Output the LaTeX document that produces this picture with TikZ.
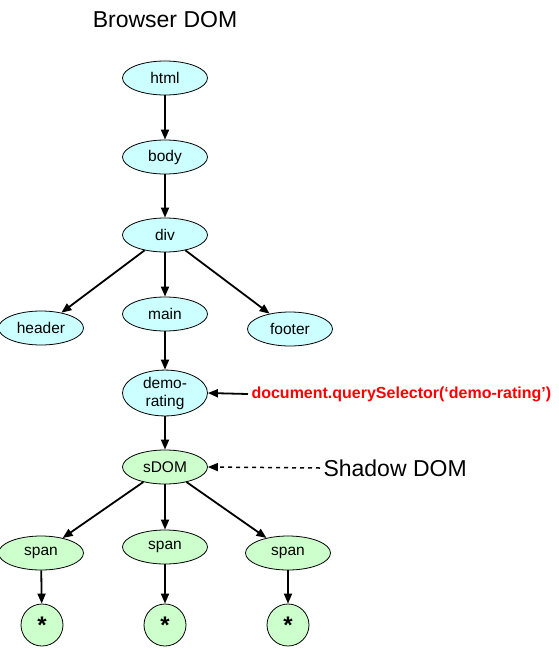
\documentclass[tikz,border=0pt]{standalone}
\usepackage{fontspec}
\setmainfont{Liberation Sans}
\usetikzlibrary{shapes.geometric,arrows.meta}
\definecolor{domcyan}{RGB}{204,255,255}
\definecolor{domgreen}{RGB}{204,255,204}
\definecolor{qred}{RGB}{255,0,0}
\tikzset{
  dom/.style={ellipse,draw=black,line width=0.8pt,fill=domcyan,minimum width=85pt,minimum height=34pt,inner sep=0pt,font=\fontsize{15.5}{17}\selectfont,align=center},
  shd/.style={dom,fill=domgreen},
  star/.style={circle,draw=black,line width=0.8pt,fill=domgreen,minimum size=42pt,inner sep=0pt,font=\fontsize{24}{24}\selectfont\bfseries},
  conn/.style={line width=1.8pt,-{Triangle[length=10pt,width=8pt]}},
  dconn/.style={line width=1.5pt,dash pattern=on 4pt off 4pt,-{Triangle[length=10pt,width=8pt]}},
}
\begin{document}
\begin{tikzpicture}[x=1pt,y=-1pt]
\useasboundingbox (0,0) rectangle (558,649);
\node[font=\fontsize{23}{24}\selectfont] (title) at (165,20) {Browser DOM};
\node[dom] (html) at (165,78) {html};
\node[dom] (body) at (165,157) {body};
\node[dom] (div) at (165,235) {div};
\node[dom] (header) at (41,328) {header};
\node[dom] (main) at (165,314) {main};
\node[dom] (footer) at (290,329) {footer};
\node[dom,minimum height=45pt,font=\fontsize{15.5}{18}\selectfont] (demo) at (165,393) {demo-\\rating};
\node[shd] (sdom) at (165,467) {sDOM};
\node[shd] (span1) at (41,553) {span};
\node[shd] (span2) at (165,547) {span};
\node[shd] (span3) at (288,553) {span};
\node[star] (s1) at (42,625) {*};
\node[star] (s2) at (165,625) {*};
\node[star] (s3) at (288,625) {*};
\node[anchor=west,text=qred,font=\fontsize{16}{18}\selectfont\bfseries] (qs) at (248,394) {document.querySelector(‘demo-rating’)};
\node[anchor=west,font=\fontsize{23}{24}\selectfont] (sh) at (320,468) {Shadow DOM};
\draw[conn] (html) -- (body);
\draw[conn] (body) -- (div);
\draw[conn] (div) -- (header);
\draw[conn] (div) -- (main);
\draw[conn] (div) -- (footer);
\draw[conn] (main) -- (demo);
\draw[conn] (demo) -- (sdom);
\draw[conn] (sdom) -- (span1);
\draw[conn] (sdom) -- (span2);
\draw[conn] (sdom) -- (span3);
\draw[conn] (span1) -- (s1);
\draw[conn] (span2) -- (s2);
\draw[conn] (span3) -- (s3);
\draw[conn] (qs.west) -- (demo.east);
\draw[dconn] (sh.west) -- (sdom.east);
\end{tikzpicture}
\end{document}
